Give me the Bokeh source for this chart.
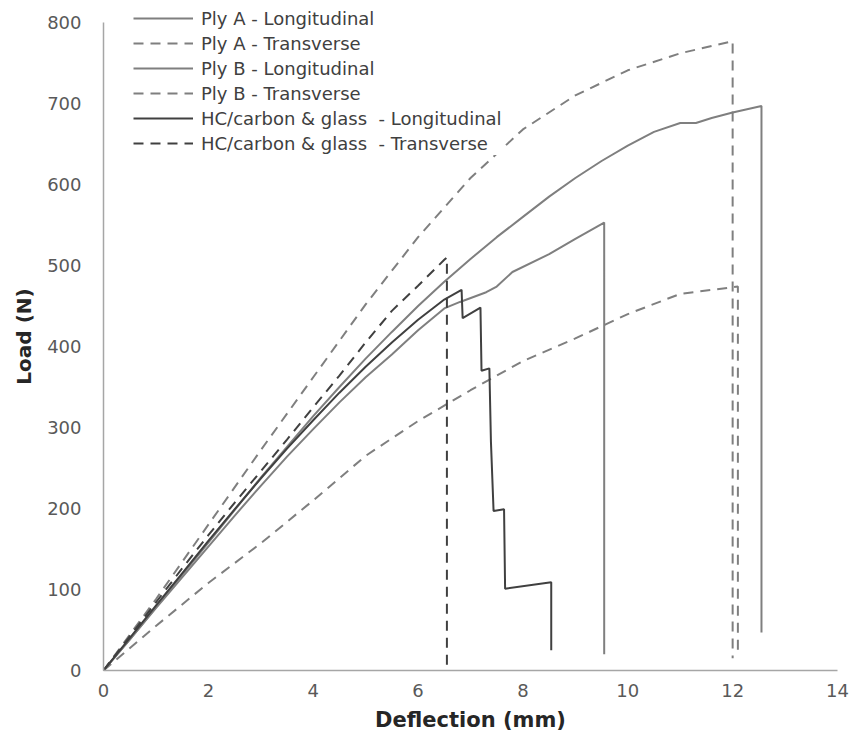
from bokeh.plotting import figure
from bokeh.models import Range1d, Legend, LegendItem, FixedTicker
from bokeh.embed import file_html
from bokeh.resources import INLINE

# ---- data (deflection in mm, load in N) ----
plyA_long_x = [0, 0.5, 1, 1.5, 2, 2.5, 3, 3.5, 4, 4.5, 5, 5.5, 6, 6.5, 7, 7.5, 8, 8.5, 9, 9.5, 10, 10.5, 11, 11.3, 11.6, 12, 12.55, 12.55]
plyA_long_y = [0, 38, 78, 118, 158, 198, 238, 276, 314, 350, 385, 418, 450, 480, 508, 535, 560, 585, 608, 629, 648, 665, 676, 676, 682, 689, 697, 47]

plyA_trans_x = [0, 1, 2, 3, 4, 5, 6, 7, 8, 9, 10, 11, 12, 12]
plyA_trans_y = [0, 88, 180, 272, 362, 452, 535, 608, 668, 710, 741, 762, 777, 15]

plyB_long_x = [0, 0.5, 1, 1.5, 2, 2.5, 3, 3.5, 4, 4.5, 5, 5.5, 6, 6.5, 6.8, 7.3, 7.5, 7.8, 8.5, 9, 9.55, 9.55]
plyB_long_y = [0, 38, 77, 115, 153, 191, 228, 264, 298, 331, 362, 390, 420, 447, 455, 467, 474, 492, 514, 533, 553, 20]

plyB_trans_x = [0, 1, 2, 3, 4, 5, 6, 7, 8, 9, 10, 11, 12.1, 12.1]
plyB_trans_y = [0, 55, 108, 157, 210, 265, 308, 346, 382, 410, 440, 465, 474, 18]

hc_long_x = [0, 0.5, 1, 1.5, 2, 2.5, 3, 3.5, 4, 4.5, 5, 5.5, 6, 6.5, 6.83, 6.85, 7.19, 7.21, 7.36, 7.39, 7.44, 7.64, 7.66, 8.54, 8.54]
hc_long_y = [0, 40, 80, 120, 160, 199, 237, 274, 309, 343, 375, 405, 433, 458, 470, 435, 448, 370, 373, 282, 197, 199, 101, 109, 25]

hc_trans_x = [0, 0.5, 1, 1.5, 2, 2.5, 3, 3.5, 4, 4.5, 5, 5.5, 6, 6.5, 6.55, 6.55]
hc_trans_y = [0, 42, 84, 126, 167, 207, 246, 285, 325, 364, 405, 444, 475, 507, 510, 0]

legend_labels = ["Ply A - Longitudinal", "Ply A - Transverse",
                 "Ply B - Longitudinal", "Ply B - Transverse",
                 "HC/carbon & glass  - Longitudinal", "HC/carbon & glass  - Transverse"]

x_ticks = [0, 2, 4, 6, 8, 10, 12, 14]
y_ticks = [0, 100, 200, 300, 400, 500, 600, 700, 800]

# ---- figure ----
W, H = 850, 738
B_LEFT, B_RIGHT, B_TOP, B_BOTTOM = 103, 13, 2, 68
AXIS_PX = 648            # pixel length of the 0..800 axis
frame_h = H - B_TOP - B_BOTTOM
y_max = 800 * frame_h / AXIS_PX   # headroom above 800 for the legend

p = figure(width=W, height=H, output_backend="svg", toolbar_location=None,
           x_range=Range1d(0, 14), y_range=Range1d(0, y_max),
           min_border_left=B_LEFT, min_border_right=B_RIGHT,
           min_border_top=B_TOP, min_border_bottom=B_BOTTOM)
p.outline_line_color = None
p.xgrid.grid_line_color = None
p.ygrid.grid_line_color = None
p.background_fill_color = "white"

FONT = "DejaVu Sans"
for ax, ticks in ((p.xaxis[0], x_ticks), (p.yaxis[0], y_ticks)):
    ax.ticker = FixedTicker(ticks=ticks)
    ax.major_tick_in = 0
    ax.major_tick_out = 0
    ax.minor_tick_in = 0
    ax.minor_tick_out = 0
    ax.axis_line_color = "#a6a6a6"
    ax.axis_line_width = 1.5
    ax.major_label_text_font = FONT
    ax.major_label_text_font_size = "18px"
    ax.major_label_text_color = "#595959"
    ax.axis_label_text_font = "DejaVu Sans"
    ax.axis_label_text_font_style = "bold"
    ax.axis_label_text_color = "#262626"

p.yaxis[0].bounds = (0, 800)
p.xaxis.axis_label = "Deflection (mm)"
p.yaxis.axis_label = "Load (N)"
p.xaxis.axis_label_text_font_size = "21px"
p.yaxis.axis_label_text_font_size = "20px"
p.xaxis.major_label_standoff = 13
p.yaxis.major_label_standoff = 22
p.xaxis.axis_label_standoff = 8
p.yaxis.axis_label_standoff = 8

PLY = "#7f7f7f"
HC = "#404040"
DASH = "10 7"
LW = 2

r1 = p.line(plyA_long_x, plyA_long_y, line_color=PLY, line_width=LW)
r2 = p.line(plyA_trans_x, plyA_trans_y, line_color=PLY, line_width=LW, line_dash=DASH)
r3 = p.line(plyB_long_x, plyB_long_y, line_color=PLY, line_width=LW)
r4 = p.line(plyB_trans_x, plyB_trans_y, line_color=PLY, line_width=LW, line_dash=DASH)
r5 = p.line(hc_long_x, hc_long_y, line_color=HC, line_width=LW)
r6 = p.line(hc_trans_x, hc_trans_y, line_color=HC, line_width=LW, line_dash=DASH)

items = [LegendItem(label=lab, renderers=[r]) for lab, r in zip(legend_labels, [r1, r2, r3, r4, r5, r6])]
row_h = 25
legend = Legend(items=items, location=(30, frame_h - 3 - 6 * row_h),
                glyph_width=60, glyph_height=24, spacing=1, label_standoff=8,
                padding=0, margin=0, border_line_alpha=0,
                background_fill_color="white", background_fill_alpha=1,
                label_text_font="DejaVu Sans", label_text_font_size="18px",
                label_text_color="#404040", label_height=24)
p.add_layout(legend, "center")

open("out.html", "w").write(file_html(p, INLINE))
